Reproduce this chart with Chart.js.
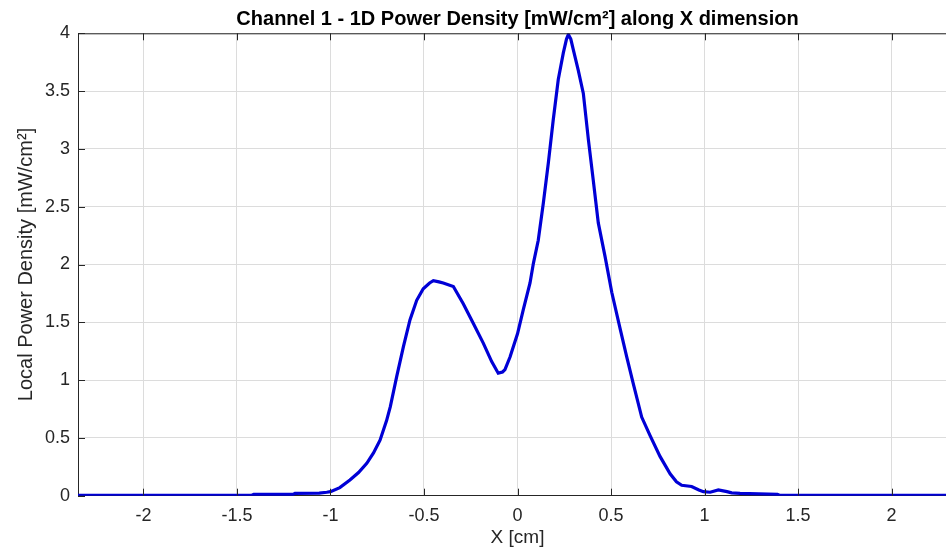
<!DOCTYPE html>
<html>
<head>
<meta charset="utf-8">
<script src="https://cdn.jsdelivr.net/npm/chart.js@4.4.1/dist/chart.umd.min.js"></script>
<style>
  html, body { margin: 0; padding: 0; background: #ffffff; overflow: hidden; width: 946px; height: 554px; }
  #wrap { width: 946px; height: 554px; overflow: hidden; position: relative; }
  canvas { display: block; position: absolute; left: 0; top: 0; }
</style>
</head>
<body>
<div id="wrap"><canvas id="c" width="960" height="554"></canvas></div>
<script>
// ---- data ----
const xPos = [
  -2.35, -1.42, -1.41, -1.20, -1.19, -1.06, -1.02, -1.00, -0.95, -0.896,
  -0.85, -0.806, -0.77, -0.735, -0.70, -0.68, -0.646, -0.61, -0.575, -0.539,
  -0.504, -0.47, -0.45, -0.42, -0.397, -0.343, -0.29, -0.236, -0.183, -0.138,
  -0.103, -0.08, -0.067, -0.04, 0.0, 0.031, 0.067, 0.085, 0.111, 0.138,
  0.165, 0.191, 0.218, 0.245, 0.262, 0.272, 0.285, 0.298, 0.325, 0.352,
  0.379, 0.405, 0.432, 0.468, 0.504, 0.548, 0.584, 0.619, 0.664, 0.709,
  0.762, 0.816, 0.85, 0.878, 0.931, 0.97, 0.994, 1.03, 1.074, 1.12,
  1.145, 1.19, 1.39, 1.40, 2.35
];
const powerDensity = [
  0.004, 0.004, 0.012, 0.012, 0.02, 0.022, 0.03, 0.035, 0.07, 0.136,
  0.20, 0.28, 0.37, 0.48, 0.65, 0.77, 1.03, 1.29, 1.52, 1.69,
  1.79, 1.84, 1.86, 1.85, 1.84, 1.81, 1.66, 1.49, 1.32, 1.16,
  1.06, 1.07, 1.09, 1.20, 1.40, 1.61, 1.84, 2.01, 2.21, 2.53,
  2.88, 3.25, 3.60, 3.83, 3.95, 3.99, 3.95, 3.86, 3.68, 3.48,
  3.08, 2.73, 2.36, 2.07, 1.76, 1.45, 1.20, 0.97, 0.68, 0.52,
  0.34, 0.19, 0.12, 0.09, 0.08, 0.05, 0.035, 0.03, 0.05, 0.035,
  0.025, 0.02, 0.012, 0.004, 0.004
];
const xTicks = [-2, -1.5, -1, -0.5, 0, 0.5, 1, 1.5, 2];
const xTickLabels = ['-2', '-1.5', '-1', '-0.5', '0', '0.5', '1', '1.5', '2'];
const yTicks = [0, 0.5, 1, 1.5, 2, 2.5, 3, 3.5, 4];
const yTickLabels = ['0', '0.5', '1', '1.5', '2', '2.5', '3', '3.5', '4'];
const titleText = 'Channel 1 - 1D Power Density [mW/cm\u00B2] along X dimension';
const xTitle = 'X [cm]';
const yTitle = 'Local Power Density [mW/cm\u00B2]';

const FONT = "'Liberation Sans', Arial, Helvetica, sans-serif";
const AXIS_COLOR = '#262626';
const GRID_COLOR = '#dcdcdc';

const points = xPos.map((x, i) => ({ x: x, y: powerDensity[i] }));

const innerTicks = {
  id: 'innerTicks',
  afterDatasetsDraw(chart) {
    const { ctx, chartArea, scales } = chart;
    const len = 7;
    ctx.save();
    ctx.strokeStyle = AXIS_COLOR;
    ctx.lineWidth = 1;
    ctx.beginPath();
    ctx.moveTo(chartArea.left, chartArea.top + 0.5);
    ctx.lineTo(chartArea.right, chartArea.top + 0.5);
    xTicks.forEach(v => {
      const px = Math.round(scales.x.getPixelForValue(v)) + 0.5;
      ctx.moveTo(px, chartArea.bottom);
      ctx.lineTo(px, chartArea.bottom - len);
      ctx.moveTo(px, chartArea.top);
      ctx.lineTo(px, chartArea.top + len);
    });
    yTicks.forEach(v => {
      const py = Math.round(scales.y.getPixelForValue(v)) + 0.5;
      ctx.moveTo(chartArea.left, py);
      ctx.lineTo(chartArea.left + len, py);
    });
    ctx.stroke();
    ctx.restore();
  }
};

const bg = {
  id: 'bg',
  beforeDraw(chart) {
    const ctx = chart.ctx;
    ctx.save();
    ctx.fillStyle = '#ffffff';
    ctx.fillRect(0, 0, chart.width, chart.height);
    ctx.restore();
  }
};

new Chart(document.getElementById('c'), {
  type: 'line',
  data: {
    datasets: [{
      data: points,
      borderColor: '#0000d6',
      borderWidth: 3.2,
      pointRadius: 0,
      tension: 0,
      fill: false
    }]
  },
  options: {
    responsive: false,
    animation: false,
    devicePixelRatio: 1,
    layout: { padding: { left: 0, right: 3, top: 0, bottom: 0 } },
    plugins: {
      legend: { display: false },
      tooltip: { enabled: false },
      title: {
        display: true,
        text: titleText,
        fullSize: false,
        color: '#000000',
        font: { family: FONT, size: 20, weight: 'bold', lineHeight: 1.2 },
        padding: { top: 7.5, bottom: 1.8 }
      }
    },
    scales: {
      x: {
        type: 'linear',
        min: -2.35,
        max: 2.35,
        afterBuildTicks: (s) => { s.ticks = xTicks.map(v => ({ value: v })); },
        afterFit: (s) => { s.height = 58.3; },
        ticks: {
          color: AXIS_COLOR,
          font: { family: FONT, size: 18 },
          padding: 10,
          maxRotation: 0,
          autoSkip: false,
          callback: (v) => { const i = xTicks.indexOf(v); return i >= 0 ? xTickLabels[i] : ''; }
        },
        grid: { color: GRID_COLOR, lineWidth: 1, drawTicks: false },
        border: { display: true, color: AXIS_COLOR, width: 1 },
        title: {
          display: true,
          text: xTitle,
          color: AXIS_COLOR,
          font: { family: FONT, size: 19, lineHeight: 1.2 },
          padding: { top: 0, bottom: 5 }
        }
      },
      y: {
        type: 'linear',
        min: 0,
        max: 4,
        afterBuildTicks: (s) => { s.ticks = yTicks.map(v => ({ value: v })); },
        afterFit: (s) => { s.width = 78; },
        ticks: {
          color: AXIS_COLOR,
          font: { family: FONT, size: 18 },
          padding: 8,
          autoSkip: false,
          callback: (v) => { const i = yTicks.indexOf(v); return i >= 0 ? yTickLabels[i] : ''; }
        },
        grid: { color: GRID_COLOR, lineWidth: 1, drawTicks: false },
        border: { display: true, color: AXIS_COLOR, width: 1 },
        title: {
          display: true,
          text: yTitle,
          color: AXIS_COLOR,
          font: { family: FONT, size: 20, lineHeight: 1.2 },
          padding: { top: 14, bottom: 0 }
        }
      }
    }
  },
  plugins: [bg, innerTicks]
});
</script>
</body>
</html>
